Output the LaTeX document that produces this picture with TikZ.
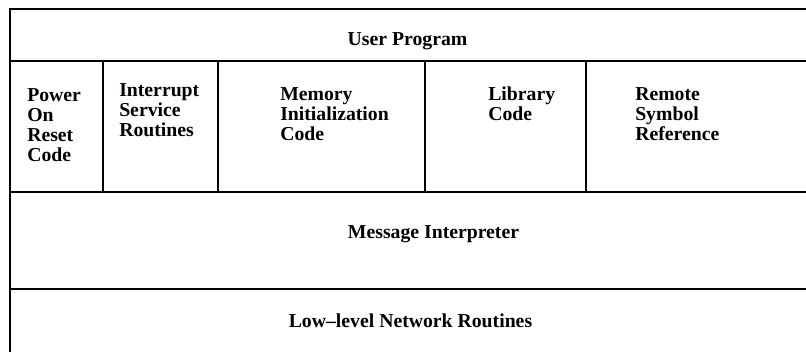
\documentclass[tikz,border=0pt]{standalone}
\usepackage{fontspec}
\setmainfont{Liberation Serif}
\newcommand{\colstack}[1]{\begin{tabular}[t]{@{}l@{}}#1\end{tabular}}
\begin{document}
\begin{tikzpicture}[x=0.75pt,y=-0.75pt,
			rule/.style={line width=2.2pt},
			lbl/.style={font=\bfseries\fontsize{14.8}{15}\selectfont, inner sep=0pt, anchor=base west},
			layer/.style={font=\bfseries\fontsize{14.8}{15}\selectfont, inner sep=0pt, anchor=base}
			]
			\useasboundingbox (0,0) rectangle (806,352);
			% frame and layer rules
			\coordinate (tr) at (806,9);
			\coordinate (tl) at (10,9);
			\coordinate (bl) at (10,352);
			\draw[rule] (tr) -- (tl) -- (bl);
			\foreach \y in {61,192,289}
				\draw[rule] (10,\y) -- (806,\y);
			\foreach \x in {103,218,425,586}
				\draw[rule] (\x,61) -- (\x,192);
			% texts
			\node[layer] (user) at (407.5,46) {User Program};
			\node[lbl] (reset) at (27,102) {\colstack{Power\\On\\Reset\\Code}};
			\node[lbl] (isr) at (119,97) {\colstack{Interrupt\\Service\\Routines}};
			\node[lbl] (meminit) at (280,101) {\colstack{Memory\\Initialization\\Code}};
			\node[lbl] (lib) at (488,101) {\colstack{Library\\Code}};
			\node[lbl] (remote) at (635,101) {\colstack{Remote\\Symbol\\Reference}};
			\node[layer] (msg) at (433.5,239) {Message Interpreter};
			\node[layer] (net) at (410.5,328) {Low--level Network Routines};
		\end{tikzpicture}
\end{document}
